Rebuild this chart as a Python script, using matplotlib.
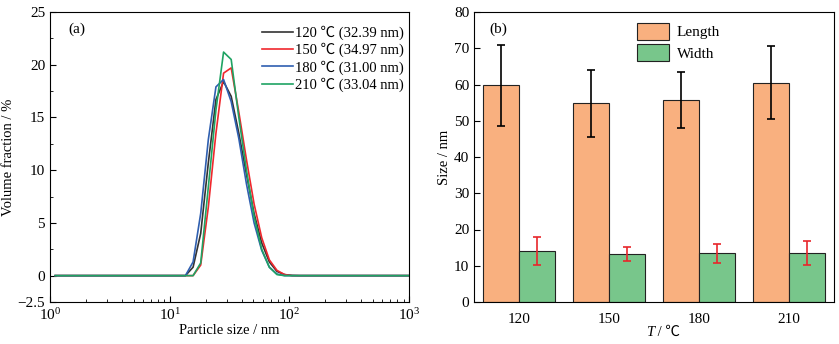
import matplotlib
matplotlib.use("Agg")
import matplotlib.pyplot as plt
from matplotlib.ticker import MultipleLocator, LogLocator

plt.rcParams['font.family'] = ['Liberation Serif', 'Noto Sans CJK SC', 'DejaVu Sans']
plt.rcParams['mathtext.fontset'] = 'stix'
plt.rcParams['font.size'] = 11
plt.rcParams['axes.unicode_minus'] = True

# (a) particle size distribution, DLS bins (nm)
size_nm = [1.106, 13.54, 15.69, 18.17, 21.04, 24.36, 28.21, 32.67, 37.84,
           43.82, 50.75, 58.77, 68.06, 78.82, 91.28, 105.7, 122.4, 1106]
vf_120 = [0, 0.0, 0.8, 4.0, 10.7, 16.7, 18.4, 17.0, 13.5, 9.6, 5.9, 3.1, 1.3, 0.4, 0.1, 0.02, 0, 0]
vf_150 = [0, 0.0, 0.0, 1.0, 6.5, 13.5, 19.2, 19.7, 15.5, 11.0, 6.8, 3.6, 1.5, 0.5, 0.1, 0.0, 0, 0]
vf_180 = [0, 0.0, 1.3, 5.9, 12.9, 17.9, 18.6, 16.5, 13.0, 8.7, 5.0, 2.4, 0.8, 0.15, 0.0, 0.0, 0, 0]
vf_210 = [0, 0.0, 0.0, 1.2, 8.4, 15.7, 21.2, 20.5, 15.0, 10.0, 5.6, 2.5, 0.8, 0.1, 0.0, 0.0, 0, 0]
series_labels = ['120 ℃ (32.39 nm)', '150 ℃ (34.97 nm)', '180 ℃ (31.00 nm)', '210 ℃ (33.04 nm)']
series_colors = ['#333333', '#f0282d', '#2f5fb0', '#1fa363']

# (b) length / width of particles
temps = ['120', '150', '180', '210']
length = [59.8, 54.8, 55.7, 60.5]
length_err = [11.2, 9.25, 7.7, 10.05]
width = [14.0, 13.2, 13.4, 13.5]
width_err = [3.8, 1.85, 2.6, 3.2]

fig = plt.figure(figsize=(8.39, 3.44), dpi=100)
ax1 = fig.add_axes([50/839, 1-302/344, 359/839, 290/344])
ax2 = fig.add_axes([474/839, 1-302/344, 360/839, 290/344])

for vals, lab, c in zip([vf_120, vf_150, vf_180, vf_210], series_labels, series_colors):
    ax1.plot(size_nm, vals, color=c, lw=1.2, label=lab)
ax1.set_xscale('log')
ax1.set_xlim(1, 1000)
ax1.set_ylim(-2.5, 25)
ax1.set_yticks([-2.5, 0, 5, 10, 15, 20, 25])
ax1.set_yticklabels(['−2.5', '0', '5', '10', '15', '20', '25'])
ax1.yaxis.set_minor_locator(MultipleLocator(2.5))
ax1.xaxis.set_minor_locator(LogLocator(subs=range(2, 10)))
ax1.tick_params(which='both', direction='in', top=False, right=False)
ax1.tick_params(which='major', length=4)
ax1.tick_params(which='minor', length=2)
ax1.set_xlabel('Particle size / nm', labelpad=1, fontsize=10.5)
ax1.set_ylabel('Volume fraction / %', labelpad=2, fontsize=10.5)
ax1.text(0.05, 0.94, '(a)', transform=ax1.transAxes, va='center')
ax1.legend(loc='upper right', bbox_to_anchor=(1.002, 0.974), frameon=False,
           handlelength=2.1, handletextpad=0.15, labelspacing=0.2, borderaxespad=0,
           fontsize=10.5)

x = range(len(temps))
ax2.bar([i - 0.2 for i in x], length, width=0.4, color='#f9b07f', edgecolor='#222222',
        lw=0.8, label='Length')
ax2.bar([i + 0.2 for i in x], width, width=0.4, color='#78c68b', edgecolor='#222222',
        lw=0.8, label='Width')
ax2.errorbar([i - 0.2 for i in x], length, yerr=length_err, fmt='none', ecolor='black',
             elinewidth=1.2, capsize=3, capthick=1.2)
ax2.errorbar([i + 0.2 for i in x], width, yerr=width_err, fmt='none', ecolor='#e8262b',
             elinewidth=1.2, capsize=3, capthick=1.2)
ax2.set_xlim(-0.5, 3.5)
ax2.set_ylim(0, 80)
ax2.set_xticks(list(x))
ax2.set_xticklabels(temps)
ax2.yaxis.set_major_locator(MultipleLocator(10))
ax2.tick_params(axis='y', direction='in', length=4)
ax2.tick_params(axis='x', length=0, pad=8)
ax2.set_ylabel('Size / nm', labelpad=2, fontsize=10.5)
# x label "T / ℃" with italic T
ax2.text(0.5, -0.083, 'T', transform=ax2.transAxes, ha='right', va='top',
         style='italic', fontsize=10.5)
ax2.text(0.5, -0.083, ' / ℃', transform=ax2.transAxes, ha='left', va='top', fontsize=10.5)
ax2.text(0.044, 0.94, '(b)', transform=ax2.transAxes, va='center')
ax2.legend(loc='upper left', bbox_to_anchor=(0.415, 1.01), frameon=False,
           handlelength=2.1, handleheight=1.3, handletextpad=0.5, labelspacing=0.3,
           fontsize=11)

fig.savefig('out.png', dpi=100)
